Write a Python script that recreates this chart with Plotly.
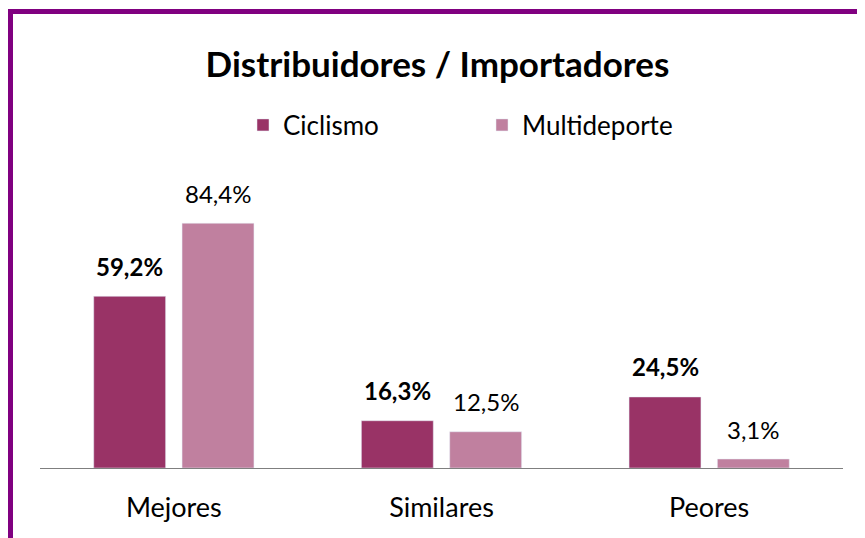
import plotly.graph_objects as go

categories = ["Mejores", "Similares", "Peores"]
ciclismo = [59.2, 16.3, 24.5]
multideporte = [84.4, 12.5, 3.1]
series_names = ["Ciclismo", "Multideporte"]
title_text = "Distribuidores / Importadores"

def fmt(v):
    return f"{v:.1f}".replace(".", ",") + "%"

FONT = "Lato"
c1 = "#993366"
c2 = "#C0809F"

W, H = 857, 530
L, R, T, B = 32, 22, 152, 70
PW, PH = W - L - R, H - T - B

fig = go.Figure()
fig.add_trace(go.Bar(name=series_names[0], x=categories, y=ciclismo, marker_color=c1))
fig.add_trace(go.Bar(name=series_names[1], x=categories, y=multideporte, marker_color=c2))

annotations = []
for cat, v in zip(categories, ciclismo):
    annotations.append(dict(x=cat, y=v, xref="x", yref="y", text="<b>" + fmt(v) + "</b>",
                            showarrow=False, xshift=-44, yshift=30, yanchor="middle",
                            font=dict(family=FONT, size=24, color="black")))
for cat, v in zip(categories, multideporte):
    annotations.append(dict(x=cat, y=v, xref="x", yref="y", text=fmt(v),
                            showarrow=False, xshift=44, yshift=30, yanchor="middle",
                            font=dict(family=FONT, size=24, color="black")))

fig.update_layout(
    width=W, height=H,
    margin=dict(l=L, r=R, t=T, b=B),
    paper_bgcolor="white", plot_bgcolor="white",
    title=dict(text="<b>" + title_text + "</b>", x=429.5 / W, xanchor="center",
               y=1 - 57 / H, yanchor="middle",
               font=dict(family=FONT, size=35, color="black")),
    legend=dict(orientation="h", x=(235 - L) / PW, xanchor="left", y=1 - 117 / H, yref="container",
                yanchor="middle", font=dict(family=FONT, size=26, color="black"),
                entrywidth=194, itemwidth=30),
    barmode="group", bargap=0.34, bargroupgap=0.186,
    xaxis=dict(showline=True, linecolor="#7f7f7f", linewidth=1, ticks="",
               tickfont=dict(family=FONT, size=27, color="black"), ticklabelstandoff=16,
               showgrid=False),
    yaxis=dict(range=[0, 106.2], visible=False, showgrid=False),
    annotations=annotations,
    showlegend=True,
    shapes=[dict(type="rect", xref="paper", yref="paper",
                 x0=(2.5 - L) / PW, x1=2, y0=-1, y1=(H - B - 3.5) / PH,
                 line=dict(color="#800080", width=5), layer="above")],
)

fig.write_html("out.html")
